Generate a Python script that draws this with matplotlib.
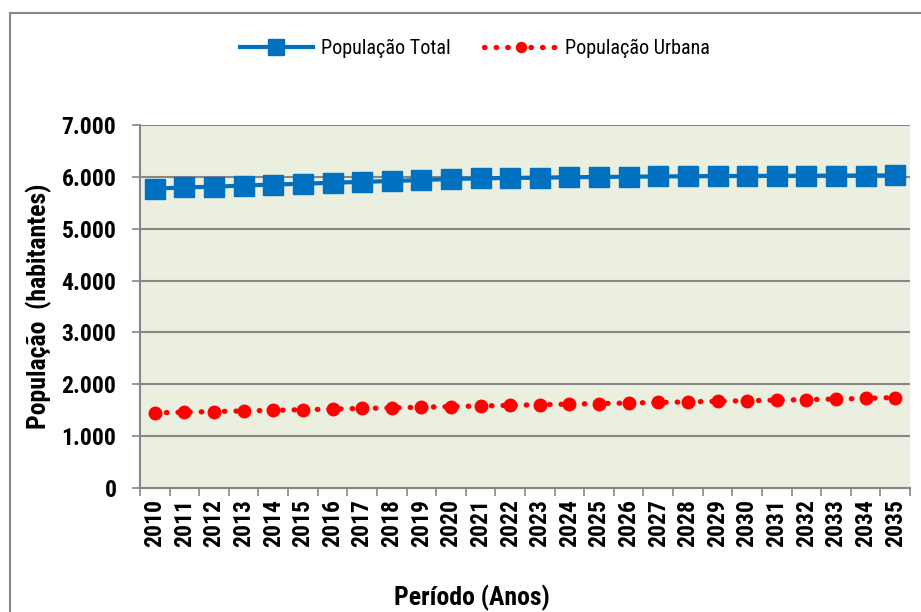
import numpy as np
import matplotlib
matplotlib.use("Agg")
import matplotlib.pyplot as plt
from matplotlib import font_manager
from matplotlib.lines import Line2D

# narrow font like the original (Arial Narrow look)
names = {f.name for f in font_manager.fontManager.ttflist}
narrow = 'DejaVu Sans'
for cand in ['Liberation Sans Narrow', 'Roboto Condensed', 'Open Sans Condensed',
             'Noto Sans Condensed', 'DejaVu Sans Condensed']:
    if cand in names:
        narrow = cand
        break
plt.rcParams['font.family'] = [narrow, 'DejaVu Sans']
plt.rcParams['font.stretch'] = 'condensed'

years = [str(y) for y in range(2010, 2036)]
pop_total = [5771, 5798, 5809, 5833, 5852, 5867, 5887, 5904, 5920, 5939,
             5958, 5972, 5978, 5985, 5992, 5998, 6003, 6008, 6012, 6015,
             6018, 6020, 6022, 6024, 6026, 6030]
pop_urbana = [1450, 1462, 1474, 1486, 1498, 1510, 1522, 1534, 1546, 1558,
              1570, 1582, 1594, 1606, 1617, 1628, 1639, 1650, 1661, 1672,
              1683, 1694, 1705, 1716, 1727, 1745]
yticks = [0, 1000, 2000, 3000, 4000, 5000, 6000, 7000]
ytick_labels = ['0', '1.000', '2.000', '3.000', '4.000', '5.000', '6.000', '7.000']

fig = plt.figure(figsize=(9.21, 6.12), dpi=100)
ax = fig.add_axes([140/921, 1-488/612, 770/921, 363/612])
ax.set_facecolor('#EBEFDF')

x = np.arange(len(years))
ax.plot(x, pop_total, color='#0070C0', lw=3, marker='s', markersize=14.5,
        label='População Total', zorder=3)
ax.plot(x, pop_urbana, color='#FF0000', lw=3.8, linestyle=(0, (0.1, 2.1)),
        dash_capstyle='round', marker='o', markersize=9,
        label='População Urbana', zorder=3)

ax.set_xlim(-0.5, len(years) - 0.5)
ax.set_ylim(0, 7000)
ax.set_yticks(yticks)
ax.set_yticklabels(ytick_labels, fontsize=17, fontweight='bold')
ax.set_xticks(x)
ax.set_xticklabels(years, rotation=90, fontsize=17, fontweight='bold')
ax.set_xticks(np.arange(-0.5, len(years)), minor=True)
ax.tick_params(axis='x', which='major', length=0, pad=8)
ax.tick_params(axis='x', which='minor', length=6, color='#868686', width=1.2)
ax.tick_params(axis='y', length=6, color='#868686', width=1.2, pad=11)
ax.grid(axis='y', color='#868686', lw=1.5, zorder=0)
ax.set_axisbelow(True)
for s in ['top', 'right']:
    ax.spines[s].set_visible(False)
for s in ['left', 'bottom']:
    ax.spines[s].set_color('#868686')
    ax.spines[s].set_linewidth(1.5)

ax.set_ylabel('População  (habitantes)', fontsize=18.5, fontweight='bold', labelpad=7)
fig.text(472/921, 1-598/612, 'Período (Anos)', fontsize=18.5, fontweight='bold',
         ha='center', va='center')

fig.legend(loc='center', bbox_to_anchor=(475/921, 1-48/612), ncol=2, frameon=False,
           fontsize=14.5, handlelength=3.6, handletextpad=0.4, columnspacing=1.7,
           markerscale=0.8)

# outer chart border
fig.add_artist(Line2D([10/921, 10/921], [0, 1-13/612], color='#868686', lw=1.5))
fig.add_artist(Line2D([10/921, 1], [1-13/612, 1-13/612], color='#868686', lw=1.5))

fig.savefig('out.png', dpi=100)
